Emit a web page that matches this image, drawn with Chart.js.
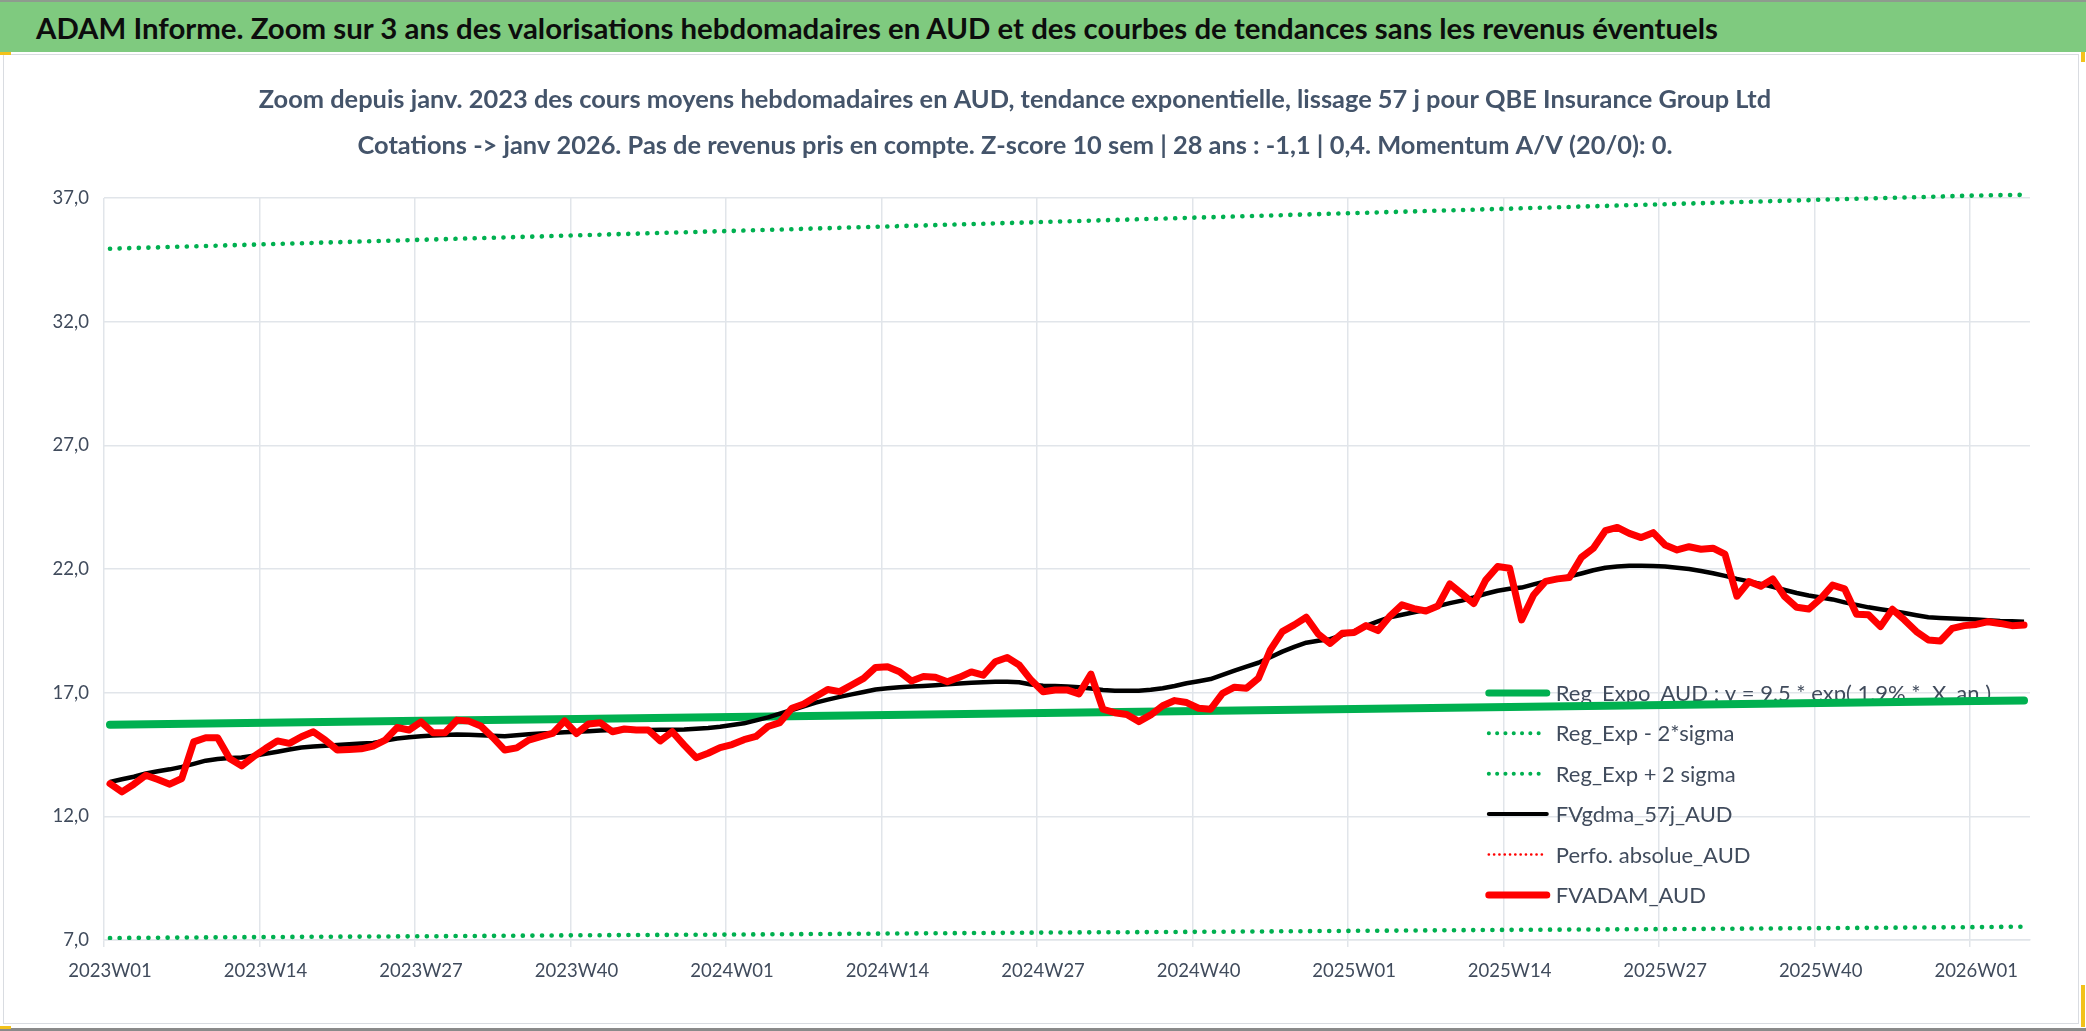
<!DOCTYPE html>
<html lang="fr">
<head>
<meta charset="utf-8">
<title>QBE Insurance Group Ltd - valorisations hebdomadaires AUD</title>
<script src="https://cdn.jsdelivr.net/npm/chart.js@4.4.1/dist/chart.umd.min.js"></script>
<style>
  html, body { margin: 0; padding: 0; background: #fff; }
  body { width: 2086px; height: 1031px; position: relative; overflow: hidden; font-family: Lato, "Noto Sans", sans-serif; }
  #bandeau { position: absolute; left: 0; top: 0; width: 2086px; height: 50px; background: #7fca7f; border-top: 2px solid #8e9b8e; }
  #bandeau h1 { margin: 0; position: absolute; left: 36px; top: 0; line-height: 52px; font-size: 29.4px; font-weight: 700; color: #0d0d0d; white-space: nowrap; }
  #cadre { position: absolute; left: 3px; top: 54px; width: 2074px; height: 968px; border: 1px solid #d9dce1; }
  #zone { position: absolute; left: 0; top: 52px; width: 2086px; height: 979px; }
  #pied { position: absolute; left: 0; top: 1028px; width: 2086px; height: 3px; background: #8a8a8a; }
  .poignee { position: absolute; background: #f2c21b; }
</style>
</head>
<body>
<div id="bandeau"><h1>ADAM Informe. Zoom sur 3 ans des valorisations hebdomadaires en AUD et des courbes de tendances sans les revenus éventuels</h1></div>
<div id="cadre"></div>
<div id="zone"><canvas id="graphique" width="2086" height="979"></canvas></div>
<div id="pied"></div>
<div class="poignee" style="left:0;top:52px;width:11px;height:3px"></div>
<div class="poignee" style="left:2081px;top:52px;width:4px;height:10px"></div>
<div class="poignee" style="left:2081px;top:985px;width:4px;height:42px"></div>
<div class="poignee" style="left:0;top:1026px;width:11px;height:3px"></div>
<script>
// semaines ISO 2023W01 -> 2026W05
var semaines = [
  '2023W01','2023W02','2023W03','2023W04','2023W05','2023W06','2023W07','2023W08','2023W09','2023W10',
  '2023W11','2023W12','2023W13','2023W14','2023W15','2023W16','2023W17','2023W18','2023W19','2023W20',
  '2023W21','2023W22','2023W23','2023W24','2023W25','2023W26','2023W27','2023W28','2023W29','2023W30',
  '2023W31','2023W32','2023W33','2023W34','2023W35','2023W36','2023W37','2023W38','2023W39','2023W40',
  '2023W41','2023W42','2023W43','2023W44','2023W45','2023W46','2023W47','2023W48','2023W49','2023W50',
  '2023W51','2023W52',
  '2024W01','2024W02','2024W03','2024W04','2024W05','2024W06','2024W07','2024W08','2024W09','2024W10',
  '2024W11','2024W12','2024W13','2024W14','2024W15','2024W16','2024W17','2024W18','2024W19','2024W20',
  '2024W21','2024W22','2024W23','2024W24','2024W25','2024W26','2024W27','2024W28','2024W29','2024W30',
  '2024W31','2024W32','2024W33','2024W34','2024W35','2024W36','2024W37','2024W38','2024W39','2024W40',
  '2024W41','2024W42','2024W43','2024W44','2024W45','2024W46','2024W47','2024W48','2024W49','2024W50',
  '2024W51','2024W52',
  '2025W01','2025W02','2025W03','2025W04','2025W05','2025W06','2025W07','2025W08','2025W09','2025W10',
  '2025W11','2025W12','2025W13','2025W14','2025W15','2025W16','2025W17','2025W18','2025W19','2025W20',
  '2025W21','2025W22','2025W23','2025W24','2025W25','2025W26','2025W27','2025W28','2025W29','2025W30',
  '2025W31','2025W32','2025W33','2025W34','2025W35','2025W36','2025W37','2025W38','2025W39','2025W40',
  '2025W41','2025W42','2025W43','2025W44','2025W45','2025W46','2025W47','2025W48','2025W49','2025W50',
  '2025W51','2025W52',
  '2026W01','2026W02','2026W03','2026W04','2026W05'
];

var etiquettesAxe = ['2023W01','2023W14','2023W27','2023W40','2024W01','2024W14','2024W27',
  '2024W40','2025W01','2025W14','2025W27','2025W40','2026W01'];

var graduationsY = [7, 12, 17, 22, 27, 32, 37];

// droites de regression, lues a chaque graduation
var semainesReg = ['2023W01','2023W14','2023W27','2023W40','2024W01','2024W14','2024W27',
  '2024W40','2025W01','2025W14','2025W27','2025W40','2026W01','2026W05'];
var regExpo = [15.70, 15.78, 15.86, 15.94, 16.02, 16.10, 16.18, 16.26, 16.34, 16.42, 16.50, 16.58, 16.66, 16.68];
var regMoins2Sigma = [7.08, 7.12, 7.15, 7.19, 7.22, 7.26, 7.30, 7.33, 7.37, 7.41, 7.44, 7.48, 7.52, 7.54];
var regPlus2Sigma = [34.95, 35.13, 35.31, 35.49, 35.67, 35.85, 36.03, 36.21, 36.39, 36.57, 36.75, 36.93, 37.10, 37.13];

var fvgdma57j = [
  13.39,13.50,13.60,13.73,13.82,13.90,14.00,14.12,14.25,14.32,
  14.36,14.38,14.45,14.53,14.61,14.70,14.78,14.82,14.85,14.88,
  14.91,14.94,14.97,15.06,15.15,15.20,15.24,15.27,15.29,15.31,
  15.30,15.28,15.26,15.24,15.28,15.32,15.35,15.37,15.40,15.42,
  15.44,15.47,15.49,15.49,15.49,15.49,15.50,15.50,15.51,15.54,
  15.57,15.62,15.69,15.76,15.88,16.00,16.15,16.30,16.45,16.60,
  16.72,16.83,16.93,17.03,17.13,17.18,17.22,17.25,17.27,17.30,
  17.34,17.37,17.40,17.42,17.44,17.44,17.42,17.33,17.28,17.27,
  17.25,17.22,17.17,17.11,17.08,17.08,17.08,17.12,17.18,17.27,
  17.38,17.46,17.55,17.72,17.89,18.05,18.21,18.43,18.66,18.85,
  19.02,19.10,19.16,19.33,19.48,19.70,19.88,20.05,20.15,20.25,
  20.35,20.50,20.62,20.72,20.85,21.00,21.12,21.20,21.25,21.38,
  21.50,21.60,21.70,21.82,21.95,22.05,22.10,22.13,22.13,22.12,
  22.10,22.05,22.00,21.92,21.83,21.72,21.60,21.50,21.40,21.28,
  21.15,21.03,20.93,20.85,20.77,20.65,20.55,20.45,20.37,20.30,
  20.22,20.13,20.05,20.02,20.00,19.98,19.96,19.93,19.90,19.89,
  19.87
];

var perfoAbsolue = [];

var fvadam = [
  13.32,12.99,13.30,13.66,13.49,13.30,13.53,15.01,15.18,15.18,
  14.34,14.04,14.41,14.74,15.05,14.95,15.22,15.42,15.08,14.68,
  14.70,14.73,14.84,15.08,15.59,15.49,15.82,15.38,15.38,15.89,
  15.85,15.65,15.19,14.68,14.77,15.08,15.22,15.35,15.86,15.35,
  15.73,15.78,15.42,15.53,15.49,15.49,15.05,15.42,14.88,14.37,
  14.55,14.78,14.90,15.10,15.23,15.63,15.79,16.37,16.54,16.84,
  17.13,17.04,17.31,17.58,18.02,18.05,17.85,17.47,17.65,17.62,
  17.44,17.62,17.84,17.71,18.25,18.42,18.12,17.51,17.04,17.11,
  17.11,16.95,17.75,16.33,16.19,16.12,15.83,16.10,16.47,16.68,
  16.60,16.37,16.33,16.97,17.22,17.18,17.58,18.73,19.47,19.74,
  20.05,19.37,18.99,19.40,19.43,19.71,19.51,20.10,20.55,20.40,
  20.30,20.50,21.40,21.00,20.60,21.55,22.10,22.03,19.94,20.95,
  21.50,21.60,21.66,22.47,22.84,23.55,23.68,23.44,23.27,23.47,
  22.97,22.77,22.90,22.80,22.84,22.60,20.90,21.49,21.30,21.60,
  20.88,20.45,20.38,20.80,21.35,21.20,20.17,20.15,19.67,20.37,
  19.94,19.47,19.13,19.09,19.60,19.71,19.76,19.87,19.80,19.71,
  19.74
];

var ARDOISE = '#404b5c';
var GRILLE = '#e1e5ea';
var VERT = '#00b050';
var ROUGE = '#ff0000';

function points(xs, ys) {
  return xs.map(function (x, i) { return { x: x, y: ys[i] }; });
}

// legende dessinee dans la zone de trace, comme dans Excel
var legendeInterne = {
  id: 'legendeInterne',
  beforeDatasetsDraw: function (chart) {
    var ctx = chart.ctx;
    var zone = chart.chartArea;
    var x = zone.left + (zone.right - zone.left) * 0.719;
    var y = zone.top + (zone.bottom - zone.top) * 0.667;
    ctx.save();
    ctx.font = '22px Lato';
    ctx.textBaseline = 'middle';
    chart.data.datasets.forEach(function (ds, i) {
      var yy = y + i * 40.4;
      ctx.beginPath();
      ctx.strokeStyle = ds.borderColor;
      ctx.lineWidth = ds.epaisseurLegende || ds.borderWidth;
      ctx.lineCap = 'round';
      ctx.setLineDash(ds.pointillesLegende || []);
      ctx.moveTo(x, yy);
      ctx.lineTo(x + 58, yy);
      ctx.stroke();
      ctx.setLineDash([]);
      ctx.fillStyle = ARDOISE;
      ctx.fillText(ds.label, x + 67, yy + 1);
    });
    ctx.restore();
  }
};

var graphique = new Chart(document.getElementById('graphique').getContext('2d'), {
  type: 'line',
  data: {
    labels: semaines,
    datasets: [
      {
        label: 'Reg_Expo_AUD : y = 9,5 * exp( 1,9% *  X_an )',
        data: points(semainesReg, regExpo),
        borderColor: VERT, borderWidth: 8, borderCapStyle: 'round',
        epaisseurLegende: 7, order: 5
      },
      {
        label: 'Reg_Exp - 2*sigma',
        data: points(semainesReg, regMoins2Sigma),
        borderColor: VERT, borderWidth: 4.6, borderDash: [0.1, 9.5], borderCapStyle: 'round',
        epaisseurLegende: 4, pointillesLegende: [0.1, 8.2], order: 4
      },
      {
        label: 'Reg_Exp + 2 sigma',
        data: points(semainesReg, regPlus2Sigma),
        borderColor: VERT, borderWidth: 4.6, borderDash: [0.1, 9.5], borderCapStyle: 'round',
        epaisseurLegende: 4, pointillesLegende: [0.1, 8.2], order: 3, clip: 8
      },
      {
        label: 'FVgdma_57j_AUD',
        data: fvgdma57j,
        borderColor: '#000000', borderWidth: 4.5, borderJoinStyle: 'round',
        epaisseurLegende: 4, order: 2
      },
      {
        label: 'Perfo. absolue_AUD',
        data: perfoAbsolue,
        borderColor: ROUGE, borderWidth: 2, borderDash: [0.1, 5.5],
        epaisseurLegende: 2.6, pointillesLegende: [0.1, 5.2], order: 1
      },
      {
        label: 'FVADAM_AUD',
        data: fvadam,
        borderColor: ROUGE, borderWidth: 7, borderJoinStyle: 'round', borderCapStyle: 'round',
        epaisseurLegende: 7, order: 0
      }
    ]
  },
  options: {
    responsive: false,
    animation: false,
    events: [],
    elements: { point: { radius: 0 }, line: { tension: 0 } },
    layout: { padding: { left: 0, right: 56, top: 0, bottom: 0 } },
    plugins: {
      legend: { display: false },
      tooltip: { enabled: false },
      title: {
        display: true,
        text: [
          'Zoom depuis janv. 2023 des cours moyens hebdomadaires en AUD, tendance exponentielle, lissage 57 j pour QBE Insurance Group Ltd',
          'Cotations -> janv 2026. Pas de revenus pris en compte. Z-score 10 sem | 28 ans : -1,1 | 0,4. Momentum A/V (20/0): 0.'
        ],
        color: '#44546a',
        font: { family: 'Lato', size: 25.4, weight: 'bold', lineHeight: 46 / 25.4 },
        padding: { top: 25, bottom: 29 }
      }
    },
    scales: {
      x: {
        type: 'category',
        offset: true,
        afterFit: function (scale) { scale.height = 91; },
        grid: {
          offset: true,
          lineWidth: 1.5,
          tickLength: 7,
          color: function (c) {
            if (c.type !== 'tick') return 'transparent';
            return etiquettesAxe.indexOf(semaines[c.index]) >= 0 ? GRILLE : 'transparent';
          }
        },
        border: { color: GRILLE, width: 1.5 },
        ticks: {
          autoSkip: false,
          maxRotation: 0,
          minRotation: 0,
          padding: 13,
          color: ARDOISE,
          font: { family: 'Lato', size: 18.5 },
          callback: function (valeur) {
            var lab = this.getLabelForValue(valeur);
            return etiquettesAxe.indexOf(lab) >= 0 ? lab : '';
          }
        }
      },
      y: {
        min: graduationsY[0],
        max: graduationsY[graduationsY.length - 1],
        afterFit: function (scale) { scale.width = 104; },
        afterBuildTicks: function (scale) {
          scale.ticks = graduationsY.map(function (v) { return { value: v }; });
        },
        grid: { color: GRILLE, lineWidth: 1.5, drawTicks: false },
        border: { display: false },
        ticks: {
          padding: 15,
          color: ARDOISE,
          font: { family: 'Lato', size: 18.5 },
          callback: function (v) { return v.toFixed(1).replace('.', ','); }
        }
      }
    }
  },
  plugins: [legendeInterne]
});
</script>
</body>
</html>
